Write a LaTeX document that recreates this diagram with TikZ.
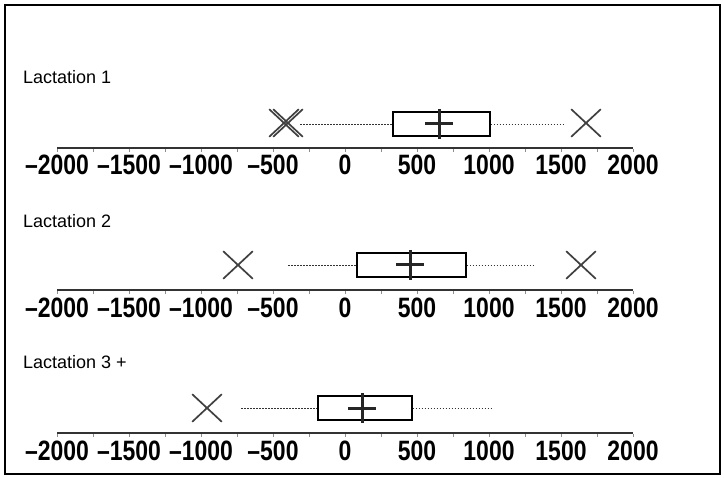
\documentclass[tikz,border=0pt]{standalone}
\usepackage{fontspec}
\setmainfont{Liberation Sans}
\newfontfamily\axisfont[FakeStretch=0.82]{Liberation Sans}
\usetikzlibrary{shapes.misc}
\begin{document}
\begin{tikzpicture}[x=1pt,y=-1pt,
  frame/.style={line width=2pt},
  axisline/.style={line width=2pt, draw=black!80},
  tickmark/.style={line width=0.6pt, draw=black!45},
  ticklabel/.style={font=\axisfont\bfseries\fontsize{28}{28}\selectfont, anchor=base, inner sep=0pt},
  lact/.style={font=\fontsize{18}{18}\selectfont, anchor=base west, inner sep=0pt},
  boxnode/.style={draw=black, line width=1.2pt, inner sep=0pt, minimum height=24pt},
  whisk/.style={draw=black!80, line width=0.9pt, dash pattern=on 1.5pt off 1.5pt},
  xmark/.style={cross out, draw=black!75, line width=1.7pt, inner sep=0pt, minimum width=28pt, minimum height=26pt},
  meanmark/.style={draw=black!85, line width=3pt}]
\useasboundingbox (0,0) rectangle (725,478);
\draw[frame] (5,5) rectangle (720,474);

% ---------- Panel 1 ----------
\node[lact] (l1) at (23,84) {Lactation 1};
\coordinate (a1s) at (57,148); \coordinate (a1e) at (633,148);
\draw[axisline] (a1s) -- (a1e);
\foreach \k in {-8,...,8} \draw[tickmark] (345+36*\k,149) -- ++(0,3);
\foreach \v [count=\i from -4] in {–2000,–1500,–1000,–500,0,500,1000,1500,2000}
  \node[ticklabel] (t1\i) at (345+72*\i,175) {\v};
\node[boxnode, minimum width=97pt] (b1) at (441.5,124) {};
\coordinate (w1l) at (300,124); \coordinate (w1r) at (563,124);
\draw[whisk] (w1l) -- (b1.west);
\draw[whisk] (b1.east) -- (w1r);
\node[xmark] (x1a) at (284,123) {};
\node[xmark] (x1b) at (288,123) {};
\node[xmark] (x1c) at (586,123) {};
\coordinate (m1) at (439,124);
\draw[meanmark] (m1) ++(-14,0) -- ++(28,0);
\draw[meanmark] (m1) ++(0,-15) -- ++(0,30);

% ---------- Panel 2 ----------
\node[lact] (l2) at (23,228) {Lactation 2};
\coordinate (a2s) at (57,290); \coordinate (a2e) at (633,290);
\draw[axisline] (a2s) -- (a2e);
\foreach \k in {-8,...,8} \draw[tickmark] (345+36*\k,291) -- ++(0,3);
\foreach \v [count=\i from -4] in {–2000,–1500,–1000,–500,0,500,1000,1500,2000}
  \node[ticklabel] (t2\i) at (345+72*\i,317) {\v};
\node[boxnode, minimum width=109pt] (b2) at (411.5,265) {};
\coordinate (w2l) at (288,265); \coordinate (w2r) at (533,265);
\draw[whisk] (w2l) -- (b2.west);
\draw[whisk] (b2.east) -- (w2r);
\node[xmark] (x2a) at (238,265) {};
\node[xmark] (x2b) at (581,265) {};
\coordinate (m2) at (410,265);
\draw[meanmark] (m2) ++(-14,0) -- ++(28,0);
\draw[meanmark] (m2) ++(0,-15) -- ++(0,30);

% ---------- Panel 3 ----------
\node[lact] (l3) at (23,368) {Lactation 3 +};
\coordinate (a3s) at (57,433); \coordinate (a3e) at (633,433);
\draw[axisline] (a3s) -- (a3e);
\foreach \k in {-8,...,8} \draw[tickmark] (345+36*\k,434) -- ++(0,3);
\foreach \v [count=\i from -4] in {–2000,–1500,–1000,–500,0,500,1000,1500,2000}
  \node[ticklabel] (t3\i) at (345+72*\i,460) {\v};
\node[boxnode, minimum width=94pt] (b3) at (365,408) {};
\coordinate (w3l) at (241,408); \coordinate (w3r) at (492,408);
\draw[whisk] (w3l) -- (b3.west);
\draw[whisk] (b3.east) -- (w3r);
\node[xmark] (x3a) at (207,408) {};
\coordinate (m3) at (362,408);
\draw[meanmark] (m3) ++(-14,0) -- ++(28,0);
\draw[meanmark] (m3) ++(0,-15) -- ++(0,30);
\end{tikzpicture}
\end{document}
